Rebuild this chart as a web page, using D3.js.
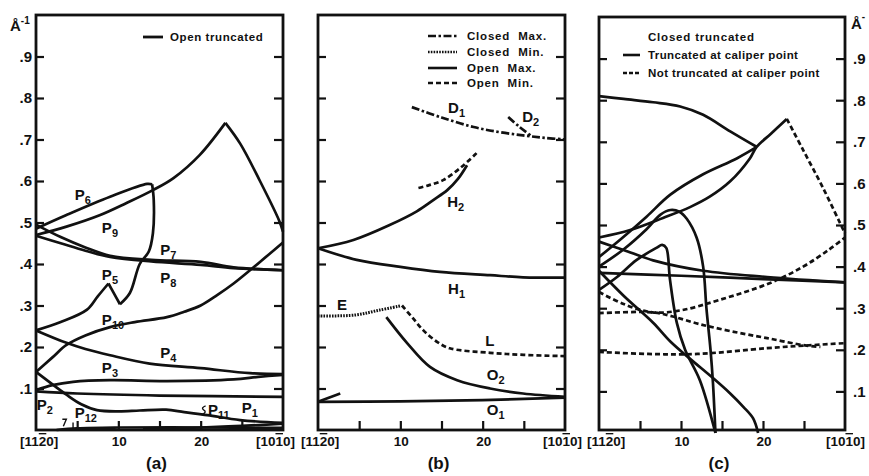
<!DOCTYPE html>
<html>
<head>
<meta charset="utf-8">
<script src="https://cdn.jsdelivr.net/npm/d3@7"></script>
<style>
  body { margin: 0; background: #fff; }
  text { font-family: "Liberation Sans", Arial, sans-serif; font-weight: bold; fill: #111; }
</style>
</head>
<body>
<svg id="chart" width="869" height="476"></svg>
<script>
// ---- data (x: 0 = [11-20] ... 30 = [10-10], y in 1/Angstrom) ----

// panel (a): open truncated
const p9 = [[0,0.47],[3.7,0.49],[7.8,0.518],[11,0.547],[14.2,0.578],[16.7,0.607],[19.9,0.663],[23,0.74]];
const p9Down = [[23,0.74],[24.8,0.69],[27.2,0.60],[29.5,0.506],[30,0.478]];
const p6 = [[0,0.485],[3.7,0.518],[9,0.562],[13.5,0.593],[14.1,0.592]];
const p6Down = [[14.1,0.592],[14.3,0.554],[14.2,0.474],[13.7,0.43],[12.6,0.40],[11.4,0.33],[10.2,0.303]];
const p5Up = [[10.2,0.303],[9.5,0.328],[8.8,0.353]];
const p5 = [[8.8,0.353],[7.5,0.322],[6.2,0.29],[3,0.26],[0,0.24]];
const p7 = [[0,0.495],[3,0.465],[6,0.44],[9,0.42],[14,0.41],[20,0.405],[24,0.392],[30,0.385]];
const p8 = [[0,0.468],[3,0.45],[6,0.432],[9,0.417],[14,0.406],[20,0.398],[24,0.39],[30,0.385]];
const p10 = [[0,0.14],[2,0.175],[3.7,0.205],[6,0.228],[9,0.248],[12,0.26],[15.9,0.272],[18,0.285],[20,0.30],[22,0.325],[24,0.353],[27.2,0.405],[30,0.452]];
const p4 = [[0,0.24],[3.7,0.21],[6,0.195],[9,0.18],[13.8,0.16],[20,0.149],[26,0.137],[30,0.135]];
const p3 = [[0,0.096],[2,0.108],[4.5,0.116],[9,0.12],[15.9,0.118],[24,0.122],[27,0.128],[30,0.133]];
const p2 = [[0,0.093],[5,0.088],[15,0.083],[30,0.08]];
const p11 = [[0,0.14],[2,0.11],[3.7,0.085],[5.5,0.062],[7.4,0.048],[10,0.045],[12.6,0.047],[15.8,0.049],[18,0.043],[20.8,0.036],[24.8,0.024],[30,0.017]];
const p12 = [[2.5,0.0],[5,0.004],[10,0.006],[20,0.006],[30,0.005]];
const p1 = [[13,0.002],[20,0.006],[25,0.01],[30,0.015]];

// panel (b)
const d1 = [[11.4,0.778],[15,0.753],[18.9,0.73],[22,0.718],[24.9,0.71],[27.5,0.704],[30,0.70]];
const d2 = [[23.1,0.754],[24.5,0.73],[25.8,0.71]];
const h2Min = [[12.2,0.583],[13.5,0.59],[15.2,0.602],[17.5,0.635],[19.3,0.668]];
const h2 = [[0,0.438],[4.3,0.458],[8.7,0.494],[12,0.527],[14,0.554],[15.7,0.578],[17,0.605],[18.1,0.638]];
const h1 = [[0,0.438],[4.7,0.41],[10,0.393],[14.8,0.381],[20.9,0.373],[24.9,0.368],[30,0.367]];
const eMin = [[0,0.275],[4.5,0.277],[7.5,0.289],[10,0.299]];
const lMin = [[10.2,0.30],[11.5,0.27],[12.8,0.24],[14.5,0.212],[16,0.197],[20.9,0.186],[25,0.181],[30,0.178]];
const o2 = [[8.3,0.272],[10.8,0.21],[13.6,0.152],[16.9,0.12],[20.9,0.10],[24.9,0.088],[30,0.08]];
const o1 = [[0,0.068],[10,0.069],[20,0.072],[30,0.078]];
const o1Stub = [[0,0.068],[2.7,0.088]];

// panel (c): closed truncated
const cTop = [[0,0.81],[3,0.803],[6.6,0.795],[9.9,0.785],[12.7,0.765],[16,0.725],[19.2,0.688]];
const cA = [[0,0.423],[2.9,0.47],[5.8,0.52],[8.7,0.573],[12.7,0.622],[16.8,0.66],[19.2,0.687]];
const cB = [[0,0.47],[3.8,0.488],[7.8,0.517],[11.1,0.543],[13.5,0.568],[16,0.605],[18.4,0.66],[19.2,0.687],[21,0.72],[22.9,0.755]];
const cPeakDash = [[22.9,0.755],[24.9,0.68],[27.3,0.59],[29.8,0.488],[30,0.48]];
const loop1 = [[0,0.40],[2.9,0.44],[5.8,0.49],[7.5,0.525],[8.7,0.536],[9.8,0.532],[10.7,0.515],[11.9,0.47],[12.7,0.40],[13.1,0.30],[13.6,0.2],[13.9,0.12],[14.2,0]];
const loop2 = [[0,0.344],[2.2,0.375],[4.6,0.416],[7.0,0.445],[7.7,0.452],[8.2,0.445],[8.66,0.368],[9.5,0.264],[10.5,0.2],[12.3,0.127],[14.2,0]];
const cDiag = [[0,0.39],[3,0.33],[6.6,0.265],[8.7,0.22],[11,0.18],[13.9,0.132],[16,0.095],[17.6,0.063],[18.8,0.035],[19.4,0]];
const cFlat1 = [[0,0.385],[10,0.378],[20,0.37],[30,0.362]];
const cFlat2 = [[0,0.46],[3,0.44],[6.6,0.415],[12.7,0.39],[20.5,0.375],[30,0.362]];
const cDashA = [[0,0.339],[3,0.31],[6.5,0.29],[10,0.295],[14.7,0.32],[20.8,0.36],[24.9,0.40],[28,0.44],[30,0.47]];
const cDashB = [[0,0.288],[6.5,0.29],[9,0.28],[12.2,0.262],[16,0.245],[20.5,0.228],[25.3,0.21],[27,0.207]];
const cDashC = [[0,0.195],[6,0.19],[12,0.19],[20.5,0.204],[25,0.21],[30,0.216]];

// curve labels [text, subscript, x, y]
const labelsA = [["P","6",4.7,0.554],["P","9",8.0,0.475],["P","7",15.1,0.422],["P","5",8.0,0.361],
  ["P","8",15.1,0.354],["P","10",8.0,0.253],["P","4",15.1,0.173],["P","3",8.0,0.137],
  ["P","2",0.1,0.048],["P","12",4.7,0.029],["P","11",20.9,0.036],["P","1",25.0,0.041]];
const labelsB = [["D","1",15.8,0.764],["D","2",24.8,0.742],["H","2",15.7,0.537],["H","1",15.8,0.327],
  ["E","",2.3,0.289],["L","",20.3,0.202],["O","2",20.5,0.12],["O","1",20.5,0.036]];

const yTicks = [0.1,0.2,0.3,0.4,0.5,0.6,0.7,0.8,0.9];
const xTicks = [5,10,15,20,25];
const xTickLabels = [[10,"10"],[20,"20"]];

// ---- drawing ----
const svg = d3.select("#chart");

const styles = {
  solid: null,
  dashed: "5,3",
  dotted: "1.6,1.2",
  dashdot: "8,2.5,2.5,2.5"
};

const panels = [
  {name: "(a)", left: 36, right: 283, top: 15, y0: 430, y1: 15, axis: "left", firstDx: -16, lastDx: 12},
  {name: "(b)", left: 318, right: 565, top: 15, y0: 430, y1: 15, axis: "none", firstDx: -17, lastDx: 17},
  {name: "(c)", left: 599, right: 845, top: 17, y0: 433, y1: 17, axis: "right", firstDx: -12, lastDx: 20}
];

panels.forEach(p => {
  p.x = d3.scaleLinear().domain([0, 30]).range([p.left, p.right]);
  p.y = d3.scaleLinear().domain([0, 1]).range([p.y0, p.y1]);
  p.g = svg.append("g");
});

function drawCurve(p, data, style, width) {
  const line = d3.line()
    .x(d => p.x(d[0]))
    .y(d => p.y(d[1]))
    .curve(d3.curveCatmullRom.alpha(0.5));
  p.g.append("path")
    .attr("d", line(data))
    .attr("fill", "none")
    .attr("stroke", "#111")
    .attr("stroke-width", width || 2.7)
    .attr("stroke-linejoin", "round")
    .attr("stroke-dasharray", styles[style]);
}

function curveLabel(p, d) {
  const t = p.g.append("text")
    .attr("x", p.x(d[2])).attr("y", p.y(d[3]))
    .attr("font-size", 15);
  t.append("tspan").text(d[0]);
  if (d[1]) t.append("tspan").attr("dy", 4).attr("font-size", 11).text(d[1]);
}

function bracketLabel(g, x, y, anchor, a, bar, b) {
  const t = g.append("text").attr("x", x).attr("y", y)
    .attr("font-size", 13.5).attr("text-anchor", anchor);
  t.append("tspan").text(a);
  t.append("tspan").style("text-decoration", "overline").text(bar);
  t.append("tspan").text(b);
}

panels.forEach(p => {
  const g = p.g;
  // frame
  g.append("rect")
    .attr("x", p.left).attr("y", p.top)
    .attr("width", p.right - p.left).attr("height", 430 - p.top)
    .attr("fill", "none").attr("stroke", "#111").attr("stroke-width", 2.8);

  // y ticks, inward on both sides
  const left = d3.axisLeft(p.y).tickValues(yTicks).tickSize(-8).tickPadding(4)
    .tickFormat(p.axis === "left" ? d3.format(".1f") : "");
  const right = d3.axisRight(p.y).tickValues(yTicks).tickSize(-9).tickPadding(8)
    .tickFormat(p.axis === "right" ? d3.format(".1f") : "");
  const gl = g.append("g").attr("transform", `translate(${p.left},0)`).call(left);
  const gr = g.append("g").attr("transform", `translate(${p.right},0)`).call(right);
  [gl, gr].forEach(ax => {
    ax.select(".domain").remove();
    ax.selectAll(".tick line").attr("stroke", "#111").attr("stroke-width", 2.2);
    ax.selectAll(".tick text")
      .text(d => d3.format(".1f")(d).replace(/^0/, ""))
      .attr("font-size", 15).attr("fill", "#111")
      .style("font-family", "'Liberation Sans', Arial, sans-serif").style("font-weight", "bold");
    if (ax === gl && p.axis !== "left") ax.selectAll(".tick text").remove();
    if (ax === gr && p.axis !== "right") ax.selectAll(".tick text").remove();
  });

  // x ticks, inward
  const bottom = d3.axisBottom(p.x).tickValues(xTicks).tickSize(-9).tickFormat("");
  const gb = g.append("g").attr("transform", "translate(0,430)").call(bottom);
  gb.select(".domain").remove();
  gb.selectAll(".tick line").attr("stroke", "#111").attr("stroke-width", 2.2);

  // x labels
  xTickLabels.forEach(([v, s]) => {
    g.append("text").attr("x", p.x(v) + 1).attr("y", 446)
      .attr("font-size", 13.5).attr("text-anchor", "middle").text(s);
  });
  bracketLabel(g, p.x(0) + p.firstDx, 446, "start", "[11", "2", "0]");
  bracketLabel(g, p.x(30) + p.lastDx, 446, "end", "[10", "1", "0]");

  // panel name
  g.append("text").attr("x", (p.left + p.right) / 2 - 3).attr("y", 469)
    .attr("font-size", 17).attr("text-anchor", "middle").text(p.name);
});

// unit labels
const pa = panels[0], pb = panels[1], pc = panels[2];
const ua = svg.append("text").attr("x", 10).attr("y", 31).attr("font-size", 15);
ua.append("tspan").text("\u00C5");
ua.append("tspan").attr("dy", -7).attr("font-size", 10).text("-1");
const uc = svg.append("text").attr("x", 851).attr("y", 29).attr("font-size", 15);
uc.append("tspan").text("\u00C5");
uc.append("tspan").attr("dy", -9).attr("font-size", 10).text("-");

// ---- panel (a) ----
[p9, p9Down, p6, p6Down, p5Up, p5, p7, p8, p10, p4, p3, p2, p11, p12, p1]
  .forEach(c => drawCurve(pa, c, "solid"));
labelsA.forEach(d => curveLabel(pa, d));
// small leader squiggles for P11 and P12
pa.g.append("path")
  .attr("d", `M${pa.x(20.6)},${pa.y(0.058)} q-5,2 -2,4 q4,2 -2,5`)
  .attr("fill", "none").attr("stroke", "#111").attr("stroke-width", 1.4);
pa.g.append("path")
  .attr("d", `M${pa.x(3.2)},${pa.y(0.026)} l4,0 l-3,7 M${pa.x(4.5)},${pa.y(0.018)} l0,6`)
  .attr("fill", "none").attr("stroke", "#111").attr("stroke-width", 1.4);

// legend (a)
pa.g.append("line").attr("x1", 143).attr("x2", 163).attr("y1", 37).attr("y2", 37)
  .attr("stroke", "#111").attr("stroke-width", 2.8);
pa.g.append("text").attr("x", 170).attr("y", 41).attr("font-size", 11.5)
  .attr("letter-spacing", 0.6).text("Open truncated");

// ---- panel (b) ----
drawCurve(pb, d1, "dashdot");
drawCurve(pb, d2, "dashdot");
drawCurve(pb, h2Min, "dashed");
drawCurve(pb, h2, "solid");
drawCurve(pb, h1, "solid");
drawCurve(pb, eMin, "dotted", 3);
drawCurve(pb, lMin, "dashed");
drawCurve(pb, o2, "solid");
drawCurve(pb, o1, "solid");
drawCurve(pb, o1Stub, "solid");
labelsB.forEach(d => curveLabel(pb, d));

const legendB = [["Closed  Max.", "dashdot", 36], ["Closed  Min.", "dotted", 52],
  ["Open  Max.", "solid", 68], ["Open  Min.", "dashed", 83]];
legendB.forEach(([t, s, ly]) => {
  pb.g.append("line").attr("x1", 428).attr("x2", 457).attr("y1", ly).attr("y2", ly)
    .attr("stroke", "#111").attr("stroke-width", s === "dotted" ? 2.4 : 2.6)
    .attr("stroke-dasharray", styles[s]);
  pb.g.append("text").attr("x", 467).attr("y", ly + 4).attr("font-size", 11.5)
    .attr("letter-spacing", 0.8).style("white-space", "pre").text(t);
});

// ---- panel (c) ----
[cTop, cA, cB, loop1, loop2, cDiag, cFlat1, cFlat2].forEach(c => drawCurve(pc, c, "solid"));
[cPeakDash, cDashA, cDashB, cDashC].forEach(c => drawCurve(pc, c, "dashed"));

pc.g.append("text").attr("x", 648).attr("y", 41).attr("font-size", 11.5)
  .attr("letter-spacing", 0.8).text("Closed truncated");
const legendC = [["Truncated at caliper point", "solid", 55], ["Not truncated at caliper point", "dashed", 73]];
legendC.forEach(([t, s, ly]) => {
  pc.g.append("line").attr("x1", 623).attr("x2", 640).attr("y1", ly).attr("y2", ly)
    .attr("stroke", "#111").attr("stroke-width", 2.6)
    .attr("stroke-dasharray", s === "dashed" ? "4,2" : null);
  pc.g.append("text").attr("x", 648).attr("y", ly + 4).attr("font-size", 11.5)
    .attr("letter-spacing", 0.4).text(t);
});
</script>
</body>
</html>
